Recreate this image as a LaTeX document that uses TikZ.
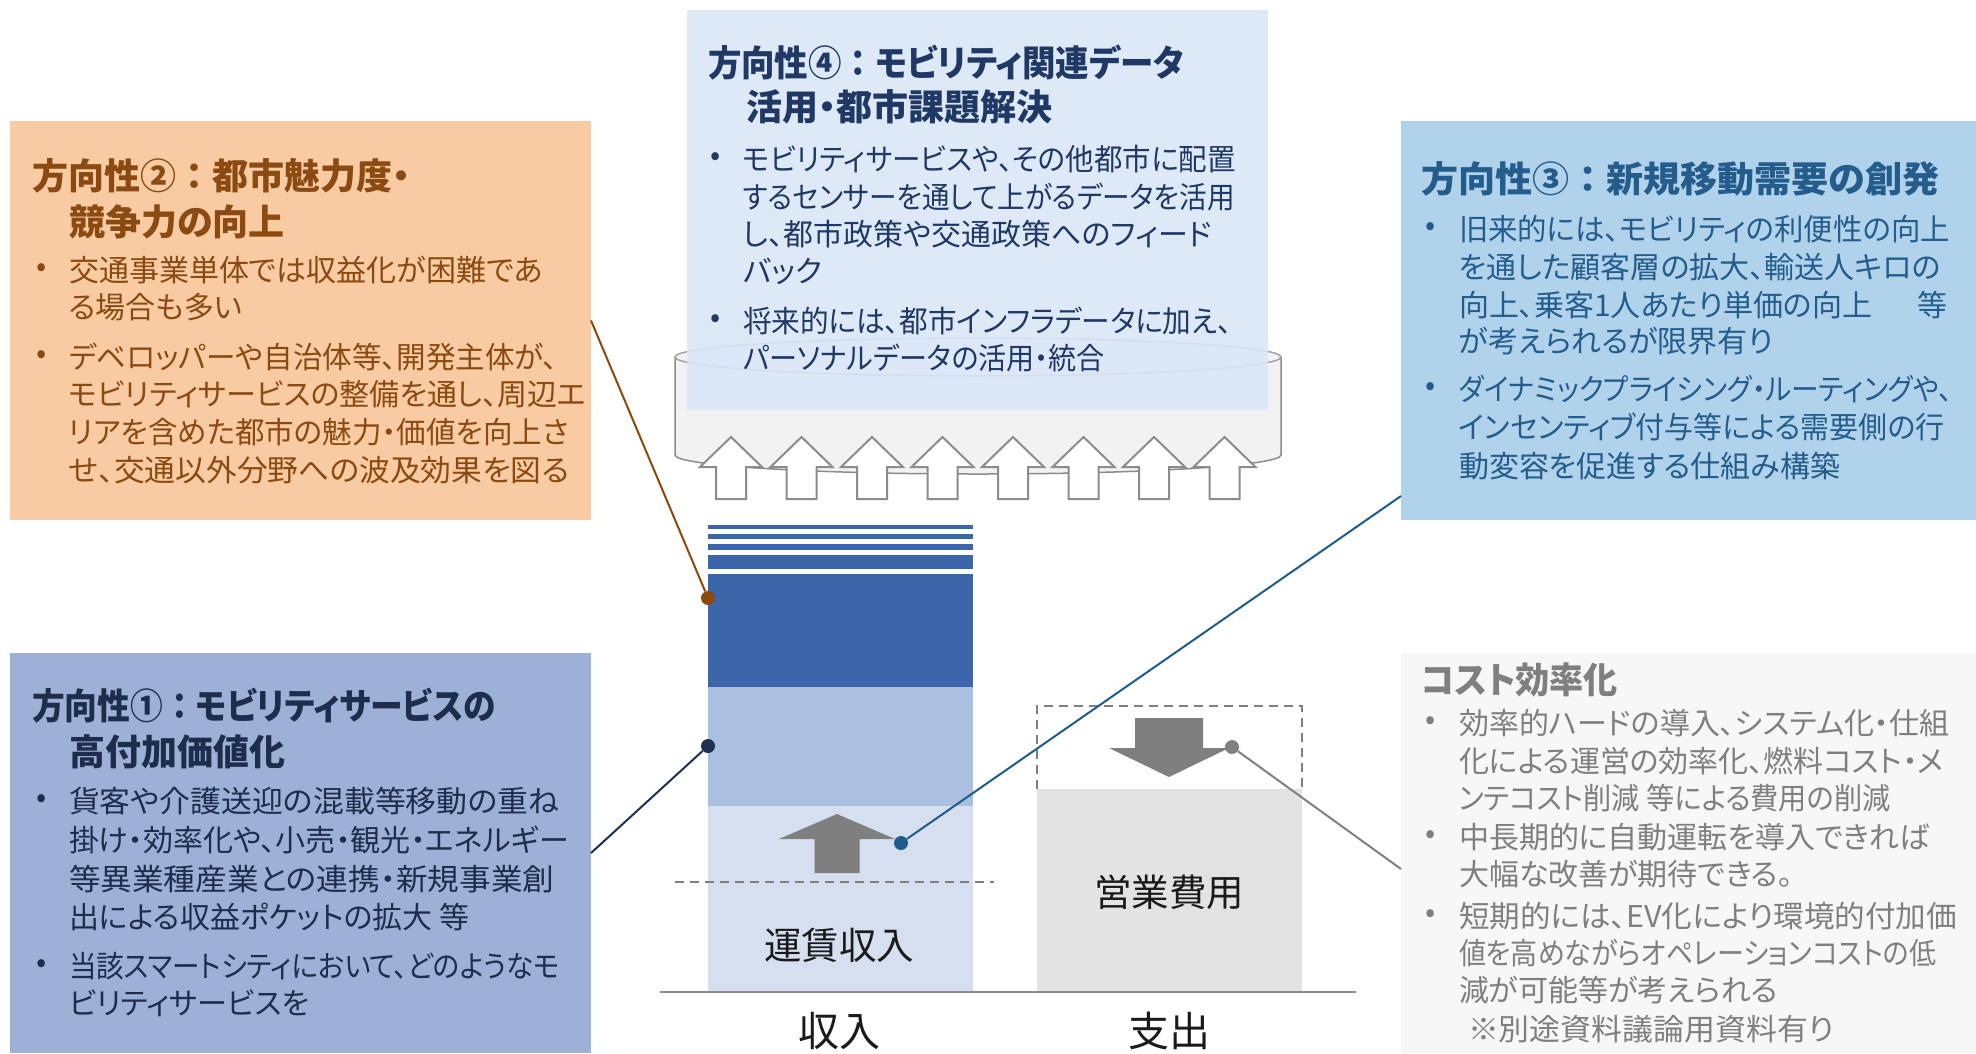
\documentclass[tikz,border=0pt]{standalone}
\usepackage{fontspec}
\usepackage{graphicx}
\setmainfont{Noto Sans CJK JP}[RawFeature={+palt}]
\newfontfamily\jpfw{Noto Sans CJK JP}
\newcommand\hsq[2]{\scalebox{#1}[1]{#2}}
\definecolor{orfill}{HTML}{F8CBA2}
\definecolor{ortxt}{HTML}{8A4A12}
\definecolor{orline}{HTML}{8B4A0A}
\definecolor{lbfill}{HTML}{DAE7F8}
\definecolor{lbtxt}{HTML}{1F3864}
\definecolor{bfill}{HTML}{B0D3EB}
\definecolor{btxt}{HTML}{245C8C}
\definecolor{bline}{HTML}{1F5C8A}
\definecolor{nfill}{HTML}{9DB0D5}
\definecolor{ntxt}{HTML}{1F2D4D}
\definecolor{nline}{HTML}{1F3057}
\definecolor{gfill}{HTML}{F7F7F7}
\definecolor{gtxt}{HTML}{7F7F7F}
\definecolor{gline}{HTML}{808080}
\definecolor{bardark}{HTML}{3D66AA}
\definecolor{barmid}{HTML}{ABC0E0}
\definecolor{barlight}{HTML}{D6DFEF}
\definecolor{expfill}{HTML}{E3E3E3}
\definecolor{arrgray}{HTML}{7F7F7F}
\definecolor{cylfill}{HTML}{F2F2F2}
\definecolor{cylline}{HTML}{8C8C8C}
\definecolor{lbltxt}{HTML}{1A1A1A}
\begin{document}
\begin{tikzpicture}[x=1pt,y=-1pt,
  panel/.style={anchor=north west, inner sep=0, outer sep=0, draw=none},
  txt/.style={anchor=west, inner sep=0, outer sep=0, font=\fontsize{30}{36}\selectfont},
  ttl/.style={anchor=west, inner sep=0, outer sep=0, font=\fontsize{36}{44}\selectfont\bfseries},
  bul/.style={anchor=center, inner sep=0, outer sep=0, font=\fontsize{30}{36}\selectfont},
  lbl/.style={anchor=center, inner sep=0, text=lbltxt, font=\fontsize{37.5}{44}\selectfont},
  lblb/.style={anchor=center, inner sep=0, text=lbltxt, font=\fontsize{41}{48}\selectfont},
  dot/.style={circle, inner sep=0, minimum size=14pt},
  conn/.style={line width=2pt},
  uparr/.style={fill=white, draw=cylline, line width=2pt, line join=miter}]
\useasboundingbox (0,0) rectangle (1976,1053);
\fill[white] (0,0) rectangle (1976,1053);

% panels
\node[panel, fill=orfill, minimum width=581pt, minimum height=399pt] (p2) at (10,121) {};
\node[panel, fill=nfill, minimum width=581pt, minimum height=400pt] (p1) at (10,653) {};
\node[panel, fill=bfill, minimum width=575pt, minimum height=399pt] (p3) at (1401,121) {};
\node[panel, fill=gfill, minimum width=575pt, minimum height=400pt] (pc) at (1401,653) {};

% cylinder
\fill[cylfill] (675,357) -- (675,455) arc[start angle=180, end angle=360, x radius=303pt, y radius=19pt] -- (1281,357) arc[start angle=0, end angle=180, x radius=303pt, y radius=19pt] -- cycle;
\draw[cylline, line width=1.5pt] (675,357) -- (675,455) arc[start angle=180, end angle=360, x radius=303pt, y radius=19pt] -- (1281,357);
\draw[cylline!80, line width=1.5pt] (978,357) ellipse[x radius=303pt, y radius=19pt];

% data panel over cylinder
\node[panel, fill=lbfill, fill opacity=0.88, minimum width=581pt, minimum height=400pt] (p4) at (687,10) {};

% arrows into cylinder
\foreach \i in {0,...,7}{
  \pgfmathsetmacro{\cx}{731+70.5*\i}
  \draw[uparr] (\cx-15,499) -- (\cx-15,467) -- (\cx-31,467) -- (\cx,437) -- (\cx+31,467) -- (\cx+15,467) -- (\cx+15,499) -- cycle;
}

% revenue bar
\fill[bardark] (708,525) rectangle (973,529);
\fill[bardark] (708,534) rectangle (973,539);
\fill[bardark] (708,544) rectangle (973,550);
\fill[bardark] (708,555) rectangle (973,569);
\fill[bardark] (708,574) rectangle (973,687);
\fill[barmid] (708,687) rectangle (973,806);
\fill[barlight] (708,806) rectangle (973,992);
\draw[arrgray, line width=1.5pt, dash pattern=on 9pt off 6pt] (675,882) -- (994,882);
\fill[arrgray] (814.5,873) -- (814.5,839) -- (779,839) -- (837,814) -- (895,839) -- (859.5,839) -- (859.5,873) -- cycle;

% expense bar
\draw[arrgray, line width=1.5pt, dash pattern=on 9pt off 6pt] (1037,789) -- (1037,706) -- (1302,706) -- (1302,789);
\fill[expfill] (1037,789) rectangle (1302,992);
\fill[arrgray] (1135,718) -- (1203,718) -- (1203,748) -- (1229,748) -- (1169,777) -- (1109,748) -- (1135,748) -- cycle;

% baseline
\draw[cylline, line width=2pt] (660,992) -- (1356,992);

% labels
\node[lbl] (lfare) at (839,945) {運賃収入};
\node[lbl] (lexp) at (1169,892) {営業費用};
\node[lblb] (lrev) at (839,1031) {収入};
\node[lblb] (lout) at (1169,1031) {支出};

% connector dots and lines
\node[dot, fill=orline] (d2) at (708,598) {};
\node[dot, fill=nline] (d1) at (708,746) {};
\node[dot, fill=bline] (d3) at (901,843) {};
\node[dot, fill=gline] (dc) at (1232,747) {};
\coordinate (c3) at (1401,496);
\coordinate (cc) at (1401,869);
\coordinate (c1) at (591,853);
\draw[conn, orline] (p2.east) -- (d2);
\draw[conn, nline] (c1) -- (d1);
\draw[conn, bline] (d3) -- (c3);
\draw[conn, gline] (dc) -- (cc);

% panel 2 (orange)
\begin{scope}[every node/.append style={text=ortxt}]
\node[ttl] (o0a) at (32,176) {方向性②{\jpfw ：}都市魅力度・};
\node[ttl] (o0b) at (69,222) {競争力の向上};
\node[bul] (ob1) at (42,270) {•};
\node[txt] (o1) at (69,270) {交通事業単体では収益化が困難であ};
\node[txt] (o2) at (69,307) {る場合も多い};
\node[bul] (ob2) at (42,357) {•};
\node[txt] (o3) at (69,357) {\hsq{0.985}{デベロッパーや自治体等、開発主体が、}};
\node[txt] (o4) at (69,394) {モビリティサービスの整備を通し、周辺エ};
\node[txt] (o5) at (69,432) {\hsq{0.985}{リアを含めた都市の魅力・価値を向上さ}};
\node[txt] (o6) at (69,470) {\hsq{1.025}{せ、交通以外分野への波及効果を図る}};
\end{scope}

% panel 4 (light blue)
\begin{scope}[every node/.append style={text=lbtxt}]
\node[ttl] (q0a) at (708,63) {\hsq{0.93}{方向性④{\jpfw ：}モビリティ関連データ}};
\node[ttl] (q0b) at (746,107) {活用・都市課題解決};
\node[bul] (qb1) at (716,159) {•};
\node[txt] (q1) at (743,159) {\hsq{0.95}{モビリティサービスや、その他都市に配置}};
\node[txt] (q2) at (743,197) {\hsq{0.92}{するセンサーを通して上がるデータを活用}};
\node[txt] (q3) at (743,234) {し、都市政策や交通政策へのフィード};
\node[txt] (q4) at (743,271) {バック};
\node[bul] (qb2) at (716,321) {•};
\node[txt] (q5) at (743,321) {\hsq{0.955}{将来的には、都市インフラデータに加え、}};
\node[txt] (q6) at (743,358) {\hsq{0.935}{パーソナルデータの活用・統合}};
\end{scope}

% panel 3 (blue)
\begin{scope}[every node/.append style={text=btxt}]
\node[ttl] (r0) at (1421,179) {\hsq{1.03}{方向性③{\jpfw ：}新規移動需要の創発}};
\node[bul] (rb1) at (1431,229) {•};
\node[txt] (r1) at (1459,229) {\hsq{0.98}{旧来的には、モビリティの利便性の向上}};
\node[txt] (r2) at (1459,267) {を通した顧客層の拡大、輸送人キロの};
\node[txt] (r3) at (1459,305) {向上、乗客1人あたり単価の向上\hspace{0.5em}　等};
\node[txt] (r4) at (1459,341) {が考えられるが限界有り};
\node[bul] (rb2) at (1431,389) {•};
\node[txt] (r5) at (1459,389) {\hsq{0.92}{ダイナミックプライシング・ルーティングや、}};
\node[txt] (r6) at (1459,427) {\hsq{0.965}{インセンティブ付与等による需要側の行}};
\node[txt] (r7) at (1459,466) {動変容を促進する仕組み構築};
\end{scope}

% panel 1 (navy)
\begin{scope}[every node/.append style={text=ntxt}]
\node[ttl] (s0a) at (32,706) {\hsq{0.91}{方向性①{\jpfw ：}モビリティサービスの}};
\node[ttl] (s0b) at (69,752) {高付加価値化};
\node[bul] (sb1) at (42,801) {•};
\node[txt] (s1) at (69,801) {\hsq{1.03}{貨客や介護送迎の混載等移動の重ね}};
\node[txt] (s2) at (69,840) {掛け・効率化や、小売・観光・エネルギー};
\node[txt] (s3) at (69,879) {\hsq{1.055}{等異業種産業との連携・新規事業創}};
\node[txt] (s4) at (69,917) {出による収益ポケットの拡大 等};
\node[bul] (sb2) at (42,966) {•};
\node[txt] (s5) at (69,966) {\hsq{0.92}{当該スマートシティにおいて、どのようなモ}};
\node[txt] (s6) at (69,1003) {ビリティサービスを};
\end{scope}

% cost panel (gray)
\begin{scope}[every node/.append style={text=gtxt}]
\node[ttl] (t0) at (1421,680) {\hsq{0.95}{コスト効率化}};
\node[bul] (tb1) at (1431,723) {•};
\node[txt] (t1) at (1459,723) {効率的ハードの導入、システム化・仕組};
\node[txt] (t2) at (1459,761) {化による運営の効率化、燃料コスト・メ};
\node[txt] (t3) at (1459,798) {\hsq{0.94}{ンテコスト削減 等による費用の削減}};
\node[bul] (tb2) at (1431,837) {•};
\node[txt] (t4) at (1459,837) {中長期的に自動運転を導入できれば};
\node[txt] (t5) at (1459,874) {大幅な改善が期待できる。};
\node[bul] (tb3) at (1431,916) {•};
\node[txt] (t6) at (1459,916) {\hsq{1.02}{短期的には、EV化により環境的付加価}};
\node[txt] (t7) at (1459,953) {\hsq{0.9}{値を高めながらオペレーションコストの低}};
\node[txt] (t8) at (1459,990) {減が可能等が考えられる};
\node[txt] (t9) at (1468,1029) {\hsq{1.03}{※別途資料議論用資料有り}};
\end{scope}
\end{tikzpicture}
\end{document}
